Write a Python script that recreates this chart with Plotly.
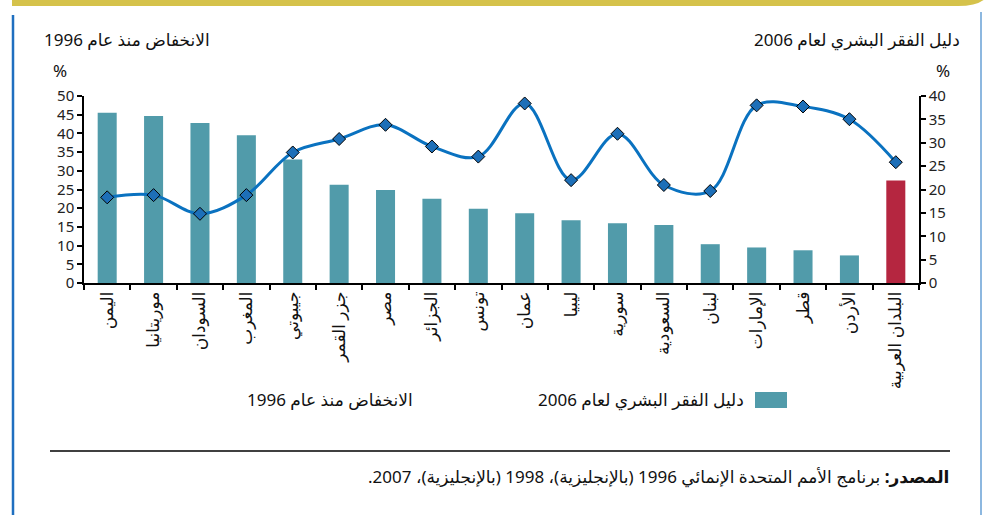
import plotly.graph_objects as go

# categories (Arabic country names)
countries = ["اليمن", "موريتانيا", "السودان", "المغرب", "جيبوتي", "جزر القمر", "مصر",
             "الجزائر", "تونس", "عمان", "ليبيا", "سورية", "السعودية", "لبنان",
             "الإمارات", "قطر", "الأردن", "البلدان العربية"]

# Human poverty index 2006 (%) - bars, right axis
hpi_2006 = [36.4, 35.7, 34.2, 31.6, 26.4, 21.0, 19.9, 18.0, 15.9, 14.9,
            13.4, 12.8, 12.4, 8.3, 7.6, 7.0, 5.9, 21.9]

# Decline since 1996 (%) - line, left axis
decline_1996 = [22.9, 23.5, 18.5, 23.5, 34.9, 38.5, 42.3, 36.5, 33.8, 48.0,
                27.5, 39.9, 26.2, 24.6, 47.5, 47.2, 43.8, 32.3]

TEAL = "#519BAA"
CRIMSON = "#B52640"
BLUE = "#0A72C0"
FONT = "Noto Sans, DejaVu Sans, sans-serif"

bar_colors = [TEAL] * (len(countries) - 1) + [CRIMSON]
n = len(countries)

fig = go.Figure()
fig.add_trace(go.Bar(x=countries, y=hpi_2006, marker_color=bar_colors,
                     marker_line_width=0, yaxis="y", showlegend=False))
fig.add_trace(go.Scatter(x=countries, y=decline_1996, yaxis="y2", mode="lines+markers",
                         line=dict(color=BLUE, width=3, shape="spline", smoothing=1.0),
                         marker=dict(symbol="diamond", size=10, color="#1D6FB8",
                                     line=dict(color="black", width=1)),
                         showlegend=False))

# plot area in pixels: x 84..919, y 96..283
L, R, T, B = 84, 919, 96, 283
W, H = R - L, B - T
px = lambda v: (v - L) / W
py = lambda v: (B - v) / H

tickfont = dict(family=FONT, size=15, color="#222")
tk = dict(ticklen=5, tickwidth=1.5, tickcolor="black", showgrid=False, zeroline=False)

fig.update_layout(
    width=987, height=515,
    margin=dict(l=L, r=987 - R, t=T, b=515 - B, autoexpand=False),
    paper_bgcolor="white", plot_bgcolor="white",
    bargap=0.59,
    font=dict(family=FONT, color="#111"),
    xaxis=dict(type="category", range=[-0.5, n - 0.5], tickangle=-90, tickson="boundaries",
               ticks="outside", showline=True, linecolor="black", linewidth=1.5,
               tickfont=dict(family=FONT, size=17, color="#111"), **tk),
    yaxis=dict(side="right", range=[0, 40], dtick=5, ticks="outside", showline=True,
               linecolor="black", linewidth=1.5, tickfont=tickfont, anchor="x", **tk),
    yaxis2=dict(side="left", overlaying="y", range=[0, 50], dtick=5, ticks="outside",
                showline=True, linecolor="black", linewidth=1.5, tickfont=tickfont,
                anchor="x", **tk),
    # inner halves of the crossing tick marks
    xaxis2=dict(overlaying="x", range=[-0.5, n - 0.5], tickvals=[i + 0.5 for i in range(n - 1)],
                ticks="inside", showticklabels=False, showline=False, anchor="y", **tk),
    yaxis3=dict(overlaying="y", range=[0, 40], dtick=5, side="right", ticks="inside",
                showticklabels=False, showline=False, anchor="x", **tk),
    yaxis4=dict(overlaying="y", range=[0, 50], dtick=5, side="left", ticks="inside",
                showticklabels=False, showline=False, anchor="x", **tk),
)

ann = dict(xref="paper", yref="paper", showarrow=False, font=dict(family=FONT, size=17, color="#111"))
fig.add_annotation(text="الانخفاض منذ عام 1996", x=px(42), y=py(40), xanchor="left", yanchor="middle", **ann)
fig.add_annotation(text="%", x=px(60), y=py(70), xanchor="center", yanchor="middle", **ann)
fig.add_annotation(text="دليل الفقر البشري لعام 2006", x=px(962), y=py(40), xanchor="right", yanchor="middle", **ann)
fig.add_annotation(text="%", x=px(943), y=py(70), xanchor="center", yanchor="middle", **ann)

# legend
fig.add_shape(type="rect", xref="paper", yref="paper", x0=px(755), x1=px(787),
              y0=py(408), y1=py(392), fillcolor=TEAL, line_width=0)
fig.add_annotation(text="دليل الفقر البشري لعام 2006", x=px(746), y=py(400), xanchor="right", yanchor="middle", **ann)
fig.add_annotation(text="الانخفاض منذ عام 1996", x=px(415), y=py(400), xanchor="right", yanchor="middle", **ann)

# source
fig.add_shape(type="line", xref="paper", yref="paper", x0=px(50), x1=px(950),
              y0=py(451), y1=py(451), line=dict(color="black", width=1.5))
src = "\u2067<b>المصدر:</b> برنامج الأمم المتحدة الإنمائي 1996 (بالإنجليزية)، 1998 (بالإنجليزية)، 2007.\u2069"
fig.add_annotation(text=src, x=px(951), y=py(476), xanchor="right", yanchor="middle",
                   xref="paper", yref="paper", showarrow=False,
                   font=dict(family=FONT, size=17, color="#111"))

# page frame: yellow top band, blue left rule, light blue right rule
fig.add_shape(type="path", xref="paper", yref="paper",
              path=f"M {px(12)},{py(-2)} L {px(986)},{py(-2)} Q {px(978)},{py(6)} {px(958)},{py(6)} L {px(12)},{py(6)} Z",
              fillcolor="#D5C24B", line_width=0)
fig.add_shape(type="line", xref="paper", yref="paper", x0=px(13), x1=px(13),
              y0=py(15), y1=py(515), line=dict(color="#1F6FC0", width=2.5))
fig.add_shape(type="line", xref="paper", yref="paper", x0=px(981), x1=px(981),
              y0=py(12), y1=py(515), line=dict(color="#8DB8E0", width=2))

fig.write_html("out.html", config={"displayModeBar": False},
               post_script="document.body.style.margin='0';document.body.style.overflow='hidden';")
